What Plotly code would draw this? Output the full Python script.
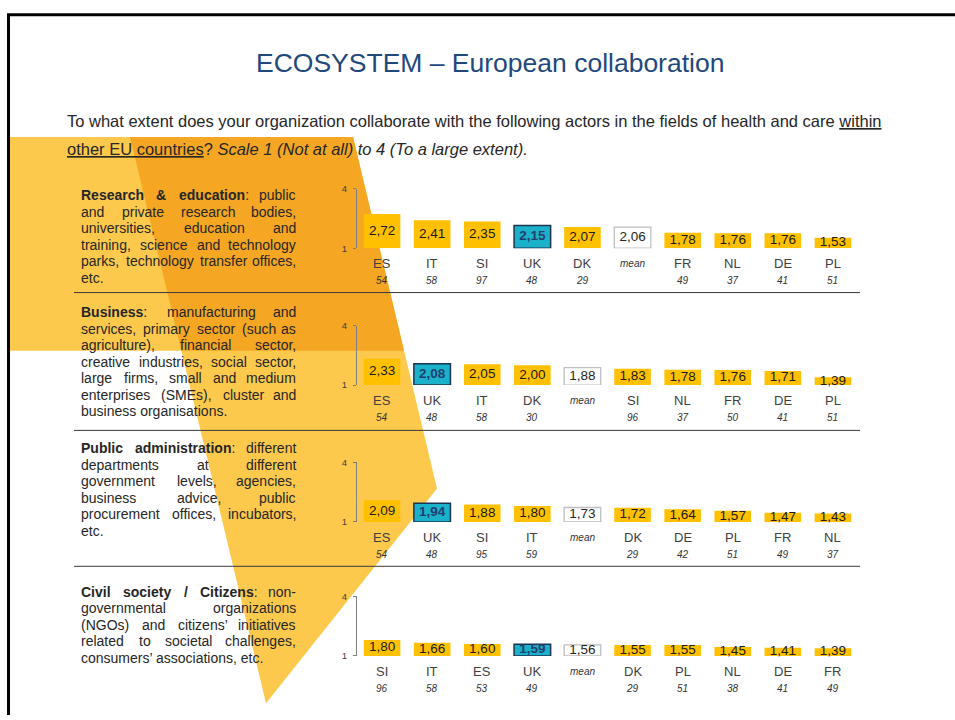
import plotly.graph_objects as go

W, H = 955, 720
FONT = "Liberation Sans, Arial, sans-serif"

# ---------------- data ----------------
research_countries = ["ES", "IT", "SI", "UK", "DK", "mean", "FR", "NL", "DE", "PL"]
research_values = [2.72, 2.41, 2.35, 2.15, 2.07, 2.06, 1.78, 1.76, 1.76, 1.53]
research_n = ["54", "58", "97", "48", "29", "", "49", "37", "41", "51"]

business_countries = ["ES", "UK", "IT", "DK", "mean", "SI", "NL", "FR", "DE", "PL"]
business_values = [2.33, 2.08, 2.05, 2.00, 1.88, 1.83, 1.78, 1.76, 1.71, 1.39]
business_n = ["54", "48", "58", "30", "", "96", "37", "50", "41", "51"]

public_countries = ["ES", "UK", "SI", "IT", "mean", "DK", "DE", "PL", "FR", "NL"]
public_values = [2.09, 1.94, 1.88, 1.80, 1.73, 1.72, 1.64, 1.57, 1.47, 1.43]
public_n = ["54", "48", "95", "59", "", "29", "42", "51", "49", "37"]

civil_countries = ["SI", "IT", "ES", "UK", "mean", "DK", "PL", "NL", "DE", "FR"]
civil_values = [1.80, 1.66, 1.60, 1.59, 1.56, 1.55, 1.55, 1.45, 1.41, 1.39]
civil_n = ["96", "58", "53", "49", "", "29", "51", "38", "41", "49"]

scale_ticks = [1, 4]

research_head = "Research & education"
research_text = ["Research & education: public",
                 "and private research bodies,",
                 "universities, education and",
                 "training, science and technology",
                 "parks, technology transfer offices,",
                 "etc."]
business_head = "Business"
business_text = ["Business: manufacturing and",
                 "services, primary sector (such as",
                 "agriculture), financial sector,",
                 "creative industries, social sector,",
                 "large firms, small and medium",
                 "enterprises (SMEs), cluster and",
                 "business organisations."]
public_head = "Public administration"
public_text = ["Public administration: different",
               "departments at different",
               "government levels, agencies,",
               "business advice, public",
               "procurement offices, incubators,",
               "etc."]
civil_head = "Civil society / Citizens"
civil_text = ["Civil society / Citizens: non-",
              "governmental organizations",
              "(NGOs) and citizens\u2019 initiatives",
              "related to societal challenges,",
              "consumers\u2019 associations, etc."]

title_text = "ECOSYSTEM \u2013 European collaboration"
question_1 = ("To what extent does your organization collaborate with the following "
              "actors in the fields of health and care <u>within</u>")
question_2 = "<u>other EU countries</u>? <i>Scale 1 (Not at all) to 4 (To a large extent).</i>"

# ---------------- colours ----------------
GOLD = "#FFC000"
TEAL = "#1BB1CA"
TEAL_EDGE = "#1C3450"
MEAN_EDGE = "#BFBFBF"
TEXT = "#262626"
LIGHT_BAND = "#FCC94D"
DARK_BAND = "#F5A623"


def px_x(x):
    return x / W


def px_y(y):
    return 1 - y / H


# ---------------- text metrics (Arial / Liberation Sans, 1/1000 em) ----------------
_low = "abcdefghijklmnopqrstuvwxyz"
_up = "ABCDEFGHIJKLMNOPQRSTUVWXYZ"
REG = dict(zip(_low, [556, 556, 500, 556, 556, 278, 556, 556, 222, 222, 500, 222, 833,
                      556, 556, 556, 556, 333, 500, 278, 556, 500, 722, 500, 500, 500]))
REG.update(zip(_up, [667, 667, 722, 722, 667, 611, 778, 722, 278, 500, 667, 556, 833,
                     722, 778, 667, 778, 722, 667, 611, 722, 667, 944, 667, 667, 611]))
REG.update({" ": 278, "&": 667, "'": 191, "\u2019": 222, "(": 333, ")": 333, ",": 278,
            "-": 333, ".": 278, "/": 278, ":": 278})
BOLD = dict(zip(_low, [556, 611, 556, 611, 556, 333, 611, 611, 278, 278, 556, 278, 889,
                       611, 611, 611, 611, 389, 556, 333, 611, 556, 778, 556, 556, 500]))
BOLD.update(zip(_up, [722, 722, 722, 722, 667, 611, 778, 722, 278, 556, 722, 611, 833,
                      722, 778, 667, 778, 722, 667, 611, 722, 667, 944, 667, 667, 611]))
BOLD.update({" ": 278, "&": 722, "/": 278, ":": 333, ",": 278, ".": 278})


def text_width(s, size, bold=False):
    table = BOLD if bold else REG
    return sum(table.get(c, 556) for c in s) * size / 1000.0


def note(x, y, text, size, color=TEXT, xref="paper", xanchor="center"):
    return dict(xref=xref, yref="paper", x=x, y=y, text=text, showarrow=False,
                xanchor=xanchor, yanchor="middle", borderpad=0,
                font=dict(family=FONT, size=size, color=color))


# ---------------- panel geometry ----------------
PLOT_X0, PLOT_X1 = 357, 858
panels = [
    dict(c=research_countries, v=research_values, n=research_n, y4=185.5, y1=246,
         head=research_head, text=research_text, ty=192),
    dict(c=business_countries, v=business_values, n=business_n, y4=324.5, y1=385,
         head=business_head, text=business_text, ty=311),
    dict(c=public_countries, v=public_values, n=public_n, y4=463.5, y1=524,
         head=public_head, text=public_text, ty=449),
    dict(c=civil_countries, v=civil_values, n=civil_n, y4=599.5, y1=660,
         head=civil_head, text=civil_text, ty=595),
]

fig = go.Figure()
layout = {}
annotations = []

for k, p in enumerate(panels, start=1):
    xa = "x" if k == 1 else f"x{k}"
    ya = "y" if k == 1 else f"y{k}"
    xs = list(range(len(p["c"])))

    fills, edges, widths, tcolors, labels = [], [], [], [], []
    for c, v in zip(p["c"], p["v"]):
        lab = f"{v:.2f}".replace(".", ",")
        if c == "UK":
            fills.append(TEAL); edges.append(TEAL_EDGE); widths.append(1.5)
            tcolors.append("#1F3F6E"); labels.append(f"<b>{lab}</b>")
        elif c == "mean":
            fills.append("white"); edges.append(MEAN_EDGE); widths.append(1.3)
            tcolors.append(TEXT); labels.append(lab)
        else:
            fills.append(GOLD); edges.append(GOLD); widths.append(0)
            tcolors.append("#1A1A1A"); labels.append(lab)

    fig.add_trace(go.Bar(
        x=xs, y=[v - 1 for v in p["v"]], base=1, width=0.73,
        marker=dict(color=fills, line=dict(color=edges, width=widths)),
        xaxis=xa, yaxis=ya, hoverinfo="skip", showlegend=False))
    fig.add_trace(go.Scatter(
        x=xs, y=[(1 + v) / 2 for v in p["v"]], mode="text", text=labels,
        textposition="middle center", cliponaxis=False,
        textfont=dict(family=FONT, size=13.5, color=tcolors),
        xaxis=xa, yaxis=ya, hoverinfo="skip", showlegend=False))

    layout["xaxis" if k == 1 else f"xaxis{k}"] = dict(
        domain=[px_x(PLOT_X0), px_x(PLOT_X1)], range=[-0.5, len(xs) - 0.5],
        visible=False, anchor=ya, fixedrange=True)
    layout["yaxis" if k == 1 else f"yaxis{k}"] = dict(
        domain=[px_y(p["y1"]), px_y(p["y4"])], range=[1, 4], anchor=xa,
        tickvals=scale_ticks, ticktext=[str(t) for t in scale_ticks],
        ticks="outside", ticklen=3, tickcolor="#7F7F7F", tickwidth=1,
        showline=True, linecolor="#7F7F7F", linewidth=1,
        showgrid=False, zeroline=False, ticklabelstandoff=4,
        tickfont=dict(family=FONT, size=9.5, color="#404040"), fixedrange=True)

    # country names and respondent counts below each bar
    for i, (c, n) in enumerate(zip(p["c"], p["n"])):
        if c == "mean":
            annotations.append(note(i, px_y(p["y1"] + 15.5), "<i>mean</i>", 10,
                                    "#333333", xref=xa))
        else:
            annotations.append(note(i, px_y(p["y1"] + 16), c, 13, "#404040", xref=xa))
        if n:
            annotations.append(note(i, px_y(p["y1"] + 33), f"<i>{n}</i>", 10,
                                    "#333333", xref=xa))

    # justified description text on the left
    TX0, TX1, FS, LH = 80, 297, 14, 16.75
    head_words = p["head"].split(" ")
    nlines = len(p["text"])
    for li, line in enumerate(p["text"]):
        y = px_y(p["ty"] + li * LH)
        words = line.split(" ")
        runs = []
        for wi, w in enumerate(words):
            if li == 0 and wi < len(head_words):
                hw = head_words[wi]
                tail = w[len(hw):]
                runs.append((f"<b>{hw}</b>{tail}",
                             text_width(hw, FS, True) + text_width(tail, FS)))
            else:
                runs.append((w, text_width(w, FS)))
        if li == nlines - 1 or len(runs) == 1:
            annotations.append(note(px_x(TX0), y, line, FS, xanchor="left"))
            continue
        total = sum(r[1] for r in runs)
        gap = (TX1 - TX0 - total) / (len(runs) - 1)
        x = TX0
        for ri, (t, wpx) in enumerate(runs):
            if ri == len(runs) - 1:
                annotations.append(note(px_x(TX1), y, t, FS, xanchor="right"))
            else:
                annotations.append(note(px_x(x), y, t, FS, xanchor="left"))
            x += wpx + gap

# ---------------- title and question ----------------
annotations.append(note(px_x(490), px_y(58), title_text, 26.5, "#1F497D"))
annotations.append(note(px_x(66), px_y(117), question_1, 16.5, xanchor="left"))
annotations.append(note(px_x(66), px_y(145), question_2, 16.5, xanchor="left"))


# ---------------- decorative background and rules ----------------
def poly(points):
    return "M " + " L ".join(f"{px_x(a):.5f},{px_y(b):.5f}" for a, b in points) + " Z"


def band_left(y):
    return 130 + (y - 133) * (266 - 130) / (708 - 133)


def band_right(y):
    return 353 + (y - 133) * (437 - 353) / (490 - 133)


shapes = [
    dict(type="path", xref="paper", yref="paper", layer="below", line=dict(width=0),
         fillcolor=LIGHT_BAND, path=poly([(10, 133), (205, 133), (205, 350), (10, 350)])),
    dict(type="path", xref="paper", yref="paper", layer="below", line=dict(width=0),
         fillcolor=LIGHT_BAND, path=poly([(130, 133), (353, 133), (437, 490), (266, 708)])),
    dict(type="path", xref="paper", yref="paper", layer="below", line=dict(width=0),
         fillcolor=DARK_BAND,
         path=poly([(130, 133), (353, 133), (band_right(350), 350), (band_left(350), 350)])),
]
for yy in (291, 431, 569):
    shapes.append(dict(type="line", xref="paper", yref="paper", layer="above",
                       x0=px_x(74), x1=px_x(860), y0=px_y(yy), y1=px_y(yy),
                       line=dict(color="#3A3A3A", width=1)))
shapes.append(dict(type="line", xref="paper", yref="paper", x0=px_x(7), x1=px_x(955),
                   y0=px_y(9), y1=px_y(9), line=dict(color="black", width=3)))
shapes.append(dict(type="line", xref="paper", yref="paper", x0=px_x(8.5), x1=px_x(8.5),
                   y0=px_y(8), y1=px_y(720), line=dict(color="black", width=3)))

fig.update_layout(
    width=W, height=H, margin=dict(l=0, r=0, t=0, b=0),
    paper_bgcolor="white", plot_bgcolor="rgba(0,0,0,0)",
    showlegend=False, barmode="overlay",
    font=dict(family=FONT, color=TEXT),
    annotations=annotations, shapes=shapes, **layout)

fig.write_html("out.html")
